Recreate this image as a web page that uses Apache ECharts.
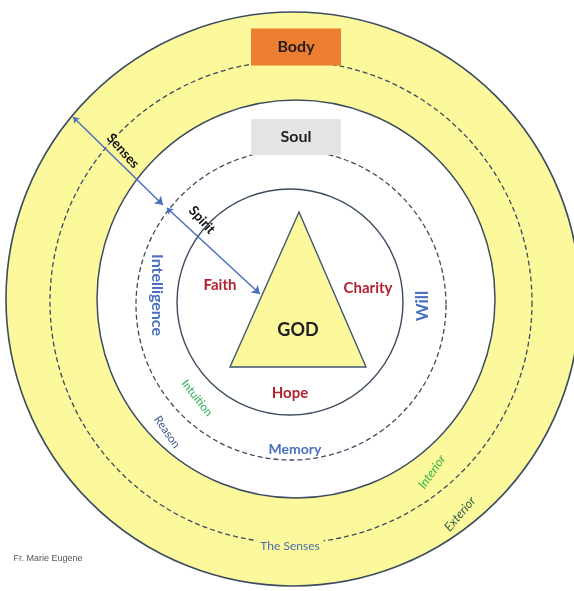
<!DOCTYPE html>
<html>
<head>
<meta charset="utf-8">
<script src="https://cdn.jsdelivr.net/npm/echarts@6/dist/echarts.min.js"></script>
<style>
html,body{margin:0;padding:0;background:#fff;}
#chart{width:574px;height:591px;}
</style>
</head>
<body>
<div id="chart"></div>
<script>
// ---- Diagram data (diagram units, origin at the centre of the rings) ----
const ringNames  = ['Body', 'Exterior / Interior', 'Soul', 'Reason / Intuition', 'Spirit'];
const ringCx     = [-1, -3, 2, -3, -4];
const ringCy     = [1, -2, 1, -5, -2];
const ringR      = [287, 241, 199, 155, 113];

const boxNames   = ['Body', 'Soul'];
const boxCx      = [2, 2];
const boxCy      = [253, 163];
const boxW       = [90, 90];
const boxH       = [37, 36];

const triangleX  = [5, -64, 72];
const triangleY  = [88, -67, -67];

const arrowFromX = [-221, -127];
const arrowFromY = [183, 92];
const arrowToX   = [-131, -34];
const arrowToY   = [95, 6];

const labelTexts = ['Body','Soul','GOD','Faith','Charity','Hope','Will','Intelligence','Memory','Intuition','Reason','Interior','Exterior','The Senses','Senses','Spirit','Fr. Marie Eugene'];
const labelX     = [2, 2, 4, -74, 74, -4, 129, -137, 1, -97, -127, 138, 166, -4, -171, -92, -246];
const labelY     = [253, 163, -30, 15, 12, -93, -6, 5, -149, -98, -132, -172, -214, -246, 149, 80, -259];
const labelAngle = [0, 0, 0, 0, 0, 0, 90, -90, 0, -52, -55, 55, 50, 0, -48, -48, 0];

// ---- Styles (kept apart from the data) ----
const YELLOW = '#fcf89c';
const LINE = '#3c4c60';
const ringStyle = [
  {fill: YELLOW, stroke: LINE, lineWidth: 1.6, dash: null},
  {fill: 'none', stroke: LINE, lineWidth: 1.3, dash: [5, 3]},
  {fill: '#ffffff', stroke: LINE, lineWidth: 1.5, dash: null},
  {fill: 'none', stroke: LINE, lineWidth: 1.3, dash: [5, 3]},
  {fill: 'none', stroke: LINE, lineWidth: 1.4, dash: null}
];
const boxFill = ['#ed7d31', '#e4e4e4'];
const FONT = 'Lato, "Open Sans", sans-serif';
const labelStyle = [
  {c:'#1e1e1e', s:16, w:'bold'},
  {c:'#1e1e1e', s:16, w:'bold'},
  {c:'#1e1e1e', s:18, w:'bold'},
  {c:'#b0232f', s:15, w:'bold'},
  {c:'#b0232f', s:15, w:'bold'},
  {c:'#b0232f', s:15, w:'bold'},
  {c:'#4a70c0', s:17, w:'bold'},
  {c:'#4a70c0', s:16, w:'bold'},
  {c:'#4a70c0', s:14, w:'bold'},
  {c:'#2fae55', s:11.5, w:'normal'},
  {c:'#3e5a8c', s:11.5, w:'normal'},
  {c:'#36b44a', s:12.5, w:'normal', i:true},
  {c:'#36604a', s:12.5, w:'normal', i:true},
  {c:'#4a6cae', s:12, w:'normal', bg:YELLOW},
  {c:'#111111', s:13.5, w:'bold'},
  {c:'#111111', s:13.5, w:'bold'},
  {c:'#555555', s:9, w:'normal', f:'"Liberation Sans Narrow", sans-serif'}
];

const chart = echarts.init(document.getElementById('chart'), null, {renderer: 'canvas'});

const ringData = ringR.map((r, i) => [ringCx[i], ringCy[i], r, i]);
const boxData = boxCx.map((x, i) => [x, boxCy[i], boxW[i], boxH[i], i]);
const triData = [[triangleX[0], triangleY[0], triangleX[1], triangleY[1], triangleX[2], triangleY[2]]];
const arrowData = arrowFromX.map((x, i) => ({coords: [[x, arrowFromY[i]], [arrowToX[i], arrowToY[i]]]}));
const labelData = labelTexts.map((t, i) => [labelX[i], labelY[i], labelAngle[i], i]);

chart.setOption({
  animation: false,
  backgroundColor: '#ffffff',
  grid: {left: 0, right: 0, top: 0, bottom: 0, containLabel: false},
  xAxis: {type: 'value', min: -294, max: 280, show: false},
  yAxis: {type: 'value', min: -291, max: 300, show: false},
  series: [
    {
      type: 'custom', name: 'rings', clip: false, z: 1,
      data: ringData,
      renderItem: function (params, api) {
        const i = api.value(3);
        const c = api.coord([api.value(0), api.value(1)]);
        const r = api.size([api.value(2), 0])[0];
        const st = ringStyle[i];
        return {
          type: 'circle',
          shape: {cx: c[0], cy: c[1], r: r},
          style: {fill: st.fill, stroke: st.stroke, lineWidth: st.lineWidth, lineDash: st.dash}
        };
      }
    },
    {
      type: 'custom', name: 'boxes', clip: false, z: 2,
      data: boxData,
      renderItem: function (params, api) {
        const i = api.value(4);
        const c = api.coord([api.value(0), api.value(1)]);
        const s = api.size([api.value(2), api.value(3)]);
        return {
          type: 'rect',
          shape: {x: c[0] - s[0] / 2, y: c[1] - s[1] / 2, width: s[0], height: s[1]},
          style: {fill: boxFill[i]}
        };
      }
    },
    {
      type: 'custom', name: 'God', clip: false, z: 3,
      data: triData,
      renderItem: function (params, api) {
        const p = [0, 1, 2].map(k => api.coord([api.value(2 * k), api.value(2 * k + 1)]));
        return {
          type: 'polygon',
          shape: {points: p},
          style: {fill: YELLOW, stroke: '#3f5670', lineWidth: 1.4}
        };
      }
    },
    {
      type: 'lines', name: 'arrows', coordinateSystem: 'cartesian2d', z: 4,
      symbol: ['arrow', 'arrow'], symbolSize: [6, 8],
      lineStyle: {color: '#4a6fbf', width: 1.5, opacity: 1, curveness: 0},
      data: arrowData
    },
    {
      type: 'custom', name: 'labels', clip: false, z: 5,
      data: labelData,
      renderItem: function (params, api) {
        const i = api.value(3);
        const c = api.coord([api.value(0), api.value(1)]);
        const st = labelStyle[i];
        const font = (st.i ? 'italic ' : '') + st.w + ' ' + st.s + 'px ' + (st.f || FONT);
        const style = {
          text: labelTexts[i], x: 0, y: 0, fill: st.c, font: font,
          align: 'center', verticalAlign: 'middle'
        };
        if (st.bg) { style.backgroundColor = st.bg; style.padding = [1, 4]; }
        return {
          type: 'text', x: c[0], y: c[1],
          rotation: api.value(2) * Math.PI / 180,
          style: style
        };
      }
    }
  ]
});
</script>
</body>
</html>
